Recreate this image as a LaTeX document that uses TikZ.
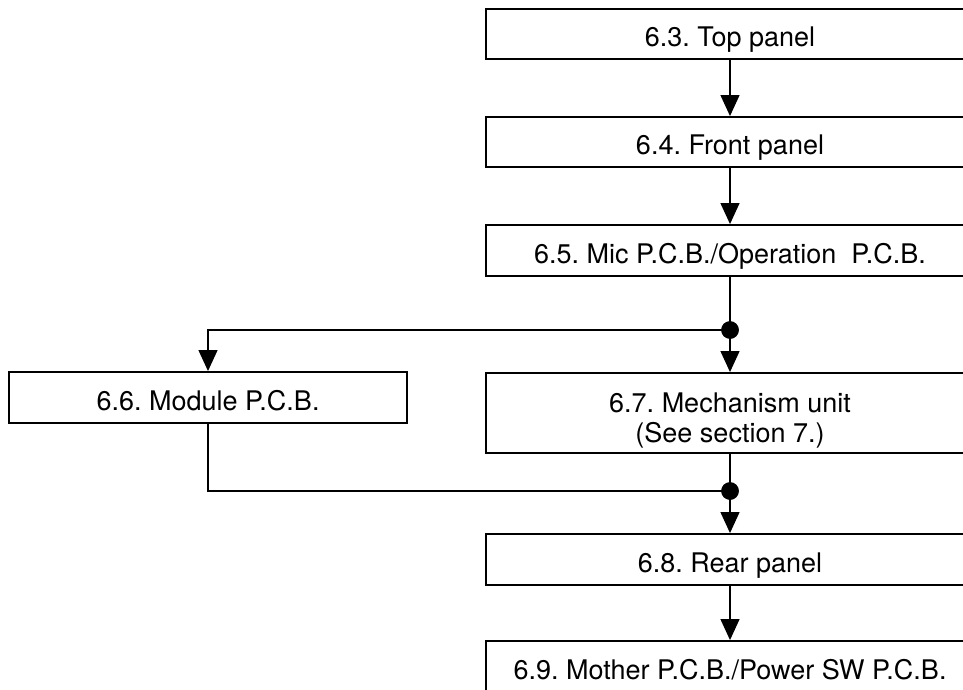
\documentclass[tikz,border=0pt]{standalone}
\usepackage{fontspec}
\setmainfont{TeX Gyre Heros}
\usetikzlibrary{arrows.meta}
\tikzset{
  txt/.style={font=\fontsize{27}{24}\selectfont\frenchspacing},
  box/.style={draw=black, line width=1.9pt, fill=white, inner sep=0pt,
    minimum width=488pt, minimum height=51pt, text height=25pt, text depth=0pt, txt},
  conn/.style={draw=black, line width=1.3pt},
  arr/.style={conn, -{Triangle[length=21pt,width=19pt]}},
  junction/.style={circle, fill=black, inner sep=0pt, minimum size=17.5pt}
}
\begin{document}
\begin{tikzpicture}[x=1pt, y=-1pt]
\useasboundingbox (0,0) rectangle (963,690);
\clip (0,0) rectangle (963,690);
\fill[white] (0,0) rectangle (963,690);
\node[box, minimum height=50pt] (b63) at (730,34) {6.3. Top panel};
\node[box, minimum height=50pt] (b64) at (730,142) {6.4. Front panel};
\node[box] (b65) at (730,250.5) {6.5. Mic P.C.B./Operation~~P.C.B.};
\node[box, minimum width=398pt] (b66) at (208,397.5) {6.6. Module P.C.B.};
\node[box, minimum height=80pt] (b67) at (730,413) {};
\node[txt, anchor=base, inner sep=0pt] (t67a) at (730,412) {6.7. Mechanism unit};
\node[txt, anchor=base, inner sep=0pt] (t67b) at (730,442) {(See section 7.)};
\node[box] (b68) at (730,559.5) {6.8. Rear panel};
\node[box] (b69) at (730,666.5) {6.9. Mother P.C.B./Power SW P.C.B.};
\node[junction] (j1) at (730,330) {};
\node[junction] (j2) at (730,491) {};
\coordinate (c1) at (208,330);
\draw[arr] (b63.south) -- (b64.north);
\draw[arr] (b64.south) -- (b65.north);
\draw[conn] (b65.south) -- (j1.center);
\draw[arr] (j1.center) -- (b67.north);
\draw[arr] (j1.center) -- (c1) -- (b66.north);
\draw[conn] (b67.south) -- (j2.center);
\draw[conn] (b66.south) |- (j2.center);
\draw[arr] (j2.center) -- (b68.north);
\draw[arr] (b68.south) -- (b69.north);
\node[junction] at (j1) {};
\node[junction] at (j2) {};
\end{tikzpicture}
\end{document}
